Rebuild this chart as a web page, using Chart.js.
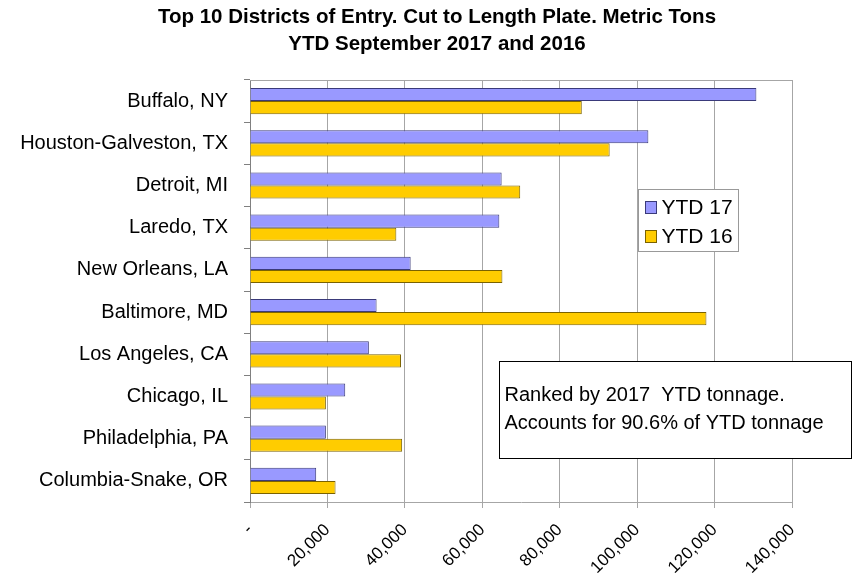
<!DOCTYPE html>
<html>
<head>
<meta charset="utf-8">
<script src="https://cdn.jsdelivr.net/npm/chart.js@4"></script>
<style>
  html, body { margin: 0; padding: 0; background: #fff; }
  #wrap { width: 858px; height: 580px; }
</style>
</head>
<body>
<div id="wrap"><canvas id="grafico" width="858" height="580"></canvas></div>
<script>
// data
const districts = [
    'Buffalo, NY', 'Houston-Galveston, TX', 'Detroit, MI', 'Laredo, TX', 'New Orleans, LA',
    'Baltimore, MD', 'Los Angeles, CA', 'Chicago, IL', 'Philadelphia, PA', 'Columbia-Snake, OR'
];
const ytd17 = [130800, 102900, 65000, 64400, 41500, 32700, 30700, 24600, 19600, 17100];
const ytd16 = [85700, 92900, 69800, 37800, 65200, 117900, 39000, 19600, 39300, 22100];
const seriesNames = ['YTD 17', 'YTD 16'];
const xTicks = [0, 20000, 40000, 60000, 80000, 100000, 120000, 140000];
const titleLines = ['Top 10 Districts of Entry. Cut to Length Plate. Metric Tons', 'YTD September 2017 and 2016'];
const noteLines = ['Ranked by 2017  YTD tonnage.', 'Accounts for 90.6% of YTD tonnage'];

const fonte = 'Arial, "Liberation Sans", sans-serif';
const cinza = '#a6a6a6';

// title, legend + note box drawn by hand (they sit off-centre / inside the plot)
const caixas = {
    id: 'caixas',
    afterDraw(chart) {
        const ctx = chart.ctx;
        const a = chart.chartArea;
        ctx.save();

        // title, centred over the whole picture
        ctx.fillStyle = '#000';
        ctx.font = 'bold 20.5px ' + fonte;
        ctx.textAlign = 'center';
        ctx.textBaseline = 'middle';
        titleLines.forEach((t, i) => ctx.fillText(t, 437, 17 + i * 27));

        // plot frame (top + right)
        ctx.strokeStyle = cinza;
        ctx.lineWidth = 1;
        ctx.beginPath();
        ctx.moveTo(a.left, a.top + 0.5);
        ctx.lineTo(a.right + 0.5, a.top + 0.5);
        ctx.lineTo(a.right + 0.5, a.bottom);
        ctx.stroke();

        // legend
        const lx = 638.5, ly = 189.5;
        ctx.fillStyle = '#fff';
        ctx.fillRect(lx, ly, 100, 62);
        ctx.strokeStyle = '#999';
        ctx.strokeRect(lx, ly, 100, 62);
        ctx.font = '21px ' + fonte;
        ctx.textAlign = 'left';
        chart.data.datasets.forEach((ds, i) => {
            const y = ly + 18 + i * 29;
            ctx.fillStyle = ds.backgroundColor;
            ctx.fillRect(lx + 7, y - 6, 11, 12);
            ctx.strokeStyle = ds.borderColor;
            ctx.strokeRect(lx + 7, y - 6, 11, 12);
            ctx.fillStyle = '#000';
            ctx.fillText(ds.label, lx + 23, y + 1);
        });

        // note box
        const nx = 499.5, ny = 361.5;
        ctx.fillStyle = '#fff';
        ctx.fillRect(nx, ny, 352, 97);
        ctx.strokeStyle = '#000';
        ctx.strokeRect(nx, ny, 352, 97);
        ctx.fillStyle = '#000';
        ctx.font = '20px ' + fonte;
        noteLines.forEach((t, i) => ctx.fillText(t, nx + 5, ny + 34 + i * 28));

        ctx.restore();
    }
};

new Chart(document.getElementById('grafico').getContext('2d'), {
    type: 'bar',
    data: {
        labels: districts,
        datasets: [
            { label: seriesNames[0], data: ytd17, backgroundColor: '#9999ff', borderColor: '#3a3a7a', borderWidth: 1 },
            { label: seriesNames[1], data: ytd16, backgroundColor: '#ffcc00', borderColor: '#7a6200', borderWidth: 1 }
        ]
    },
    options: {
        indexAxis: 'y',
        responsive: false,
        animation: false,
        devicePixelRatio: 1,
        categoryPercentage: 0.62,
        barPercentage: 1.0,
        layout: { padding: { left: 0, right: 66, top: 80, bottom: 0 } },
        plugins: {
            legend: { display: false },
            tooltip: { enabled: false },
            title: { display: false }
        },
        scales: {
            x: {
                min: 0,
                max: 140000,
                afterBuildTicks: (s) => { s.ticks = xTicks.map(v => ({ value: v })); },
                afterFit: (s) => { s.height = 78; },
                grid: { color: cinza, tickLength: 6 },
                border: { color: cinza },
                ticks: {
                    color: '#000',
                    font: { family: fonte, size: 17 },
                    minRotation: 45,
                    maxRotation: 45,
                    padding: 12,
                    callback: (v) => v === 0 ? '-' : v.toLocaleString('en-US')
                }
            },
            y: {
                afterFit: (s) => { s.width = 250; },
                grid: { drawOnChartArea: false, color: '#808080', tickLength: 6 },
                border: { color: '#808080' },
                ticks: {
                    color: '#000',
                    font: { family: fonte, size: 20 },
                    padding: 16
                }
            }
        }
    },
    plugins: [caixas]
});
</script>
</body>
</html>
